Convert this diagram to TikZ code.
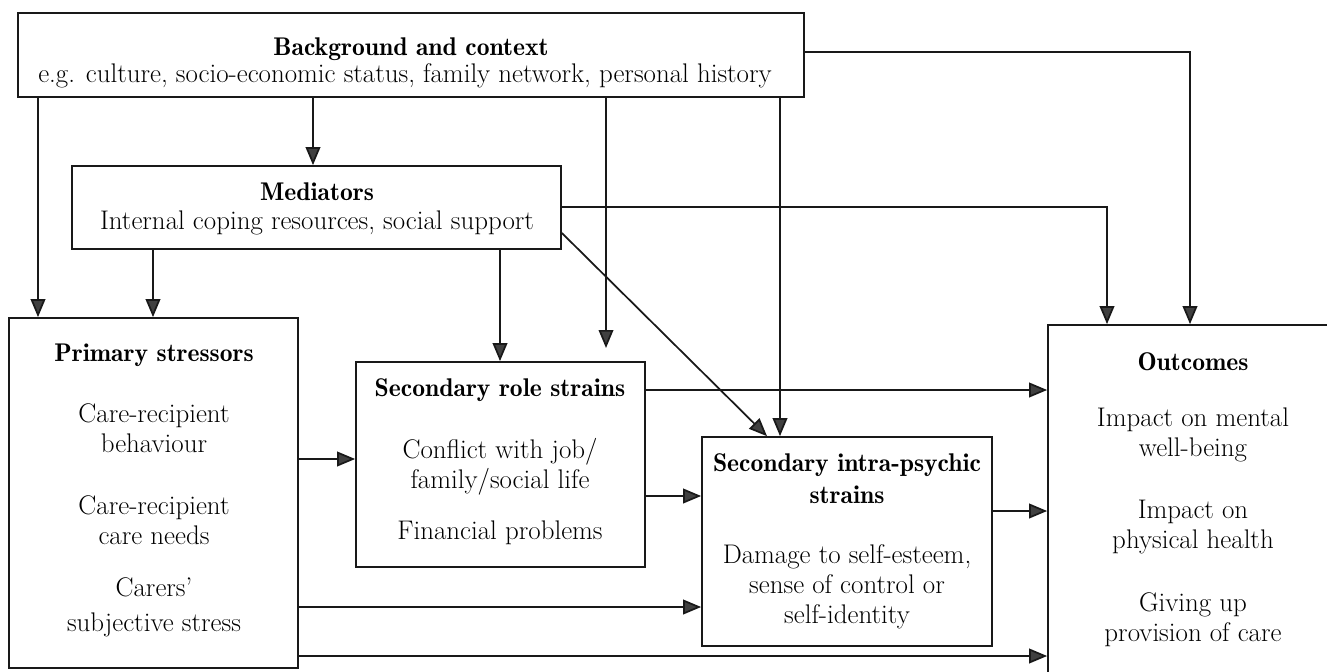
\documentclass[tikz,border=0pt]{standalone}
\usetikzlibrary{arrows.meta,fit}

\begin{document}
\begin{tikzpicture}[x=0.75pt,y=-0.75pt,
  box/.style={draw=black!90, line width=1.3pt, inner sep=0pt},
  txt/.style={align=center, inner sep=0pt, font=\fontsize{20.2}{22.5}\selectfont},
  ttl/.style={txt, font=\fontsize{19.2}{24}\fontseries{b}\selectfont},
  arr/.style={draw=black!90, line width=1.3pt, -{Triangle[length=13.5pt,width=11pt,fill=black!75]}}]

\useasboundingbox (0,0) rectangle (1327,671);
\clip (0,0) rectangle (1327,671);

% boxes
\node[box, fit={(18,13)(804,97)}] (bg) {};
\node[box, fit={(72,166)(561,249)}] (med) {};
\node[box, fit={(9,318)(298,668)}] (prim) {};
\node[box, fit={(356,362)(645,567)}] (role) {};
\node[box, fit={(702,437)(992,646)}] (intra) {};
\node[box, fit={(1048,325)(1360,700)}] (out) {};

% texts
\node[ttl] (bgT) at (411,49) {Background and context};
\node[txt] (bgS) at (405,76) {e.g. culture, socio-economic status, family network, personal history};

\node[ttl] (medT) at (317,192) {Mediators};
\node[txt] (medS) at (317,223) {Internal coping resources, social support};

\node[ttl] (primT) at (154,355) {Primary stressors};
\node[txt] (prim1) at (154,428) {Care-recipient\\behaviour};
\node[txt] (prim2) at (154,520) {Care-recipient\\care needs};
\node[txt] (prim3) at (154,607) {Carers’\\[4pt]subjective stress};

\node[ttl] (roleT) at (500,390) {Secondary role strains};
\node[txt] (role1) at (500,467) {Conflict with job/\\family/social life};
\node[txt] (role2) at (500,533) {Financial problems};

\node[ttl] (intraT) at (847,479) {Secondary intra-psychic\\strains};
\node[txt] (intra1) at (847,587) {Damage to self-esteem,\\sense of control or\\self-identity};

\node[ttl] (outT) at (1193,362) {Outcomes};
\node[txt] (out1) at (1193,435) {Impact on mental\\well-being};
\node[txt] (out2) at (1193,527) {Impact on\\physical health};
\node[txt] (out3) at (1193,620) {Giving up\\provision of care};

% connectors from the background box
\coordinate (bgStop) at (606,348);
\draw[arr] (38,0 |- bg.south) -- (38,0 |- prim.north);
\draw[arr] (313,0 |- bg.south) -- (313,0 |- med.north);
\draw[arr] (bgStop |- bg.south) -- (bgStop);
\draw[arr] (780,0 |- bg.south) -- (780,0 |- intra.north);
\draw[arr] (bg.east |- 0,52) -| (1190,0 |- out.north);

% connectors from the mediators box
\draw[arr] (153,0 |- med.south) -- (153,0 |- prim.north);
\draw[arr] (500,0 |- med.south) -- (500,0 |- role.north);
\draw[arr] (med.east |- 0,207) -| (1107,0 |- out.north);
\draw[arr] (med.east |- 0,233) -- (767,0 |- intra.north);

% connectors from the stressors and strains
\draw[arr] (prim.east |- 0,459) -- (role.west |- 0,459);
\draw[arr] (prim.east |- 0,607) -- (intra.west |- 0,607);
\draw[arr] (prim.east |- 0,656) -- (out.west |- 0,656);
\draw[arr] (role.east |- 0,390) -- (out.west |- 0,390);
\draw[arr] (role.east |- 0,496) -- (intra.west |- 0,496);
\draw[arr] (intra.east |- 0,511) -- (out.west |- 0,511);
\end{tikzpicture}
\end{document}
